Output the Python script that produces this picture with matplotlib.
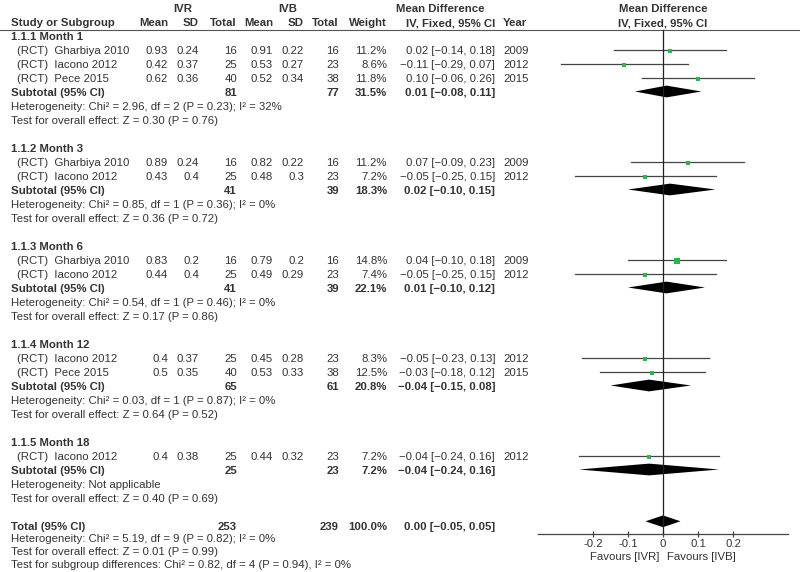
import matplotlib.pyplot as plt

plt.rcParams['font.family'] = ['Liberation Sans', 'DejaVu Sans']

# ---- data ----
groups = ['1.1.1 Month 1', '1.1.2 Month 3', '1.1.3 Month 6', '1.1.4 Month 12', '1.1.5 Month 18']

studies = [
    ['Gharbiya 2010', 'Iacono 2012', 'Pece 2015'],
    ['Gharbiya 2010', 'Iacono 2012'],
    ['Gharbiya 2010', 'Iacono 2012'],
    ['Iacono 2012', 'Pece 2015'],
    ['Iacono 2012'],
]
ivr_mean = [[0.93, 0.42, 0.62], [0.89, 0.43], [0.83, 0.44], [0.4, 0.5], [0.4]]
ivr_sd = [[0.24, 0.37, 0.36], [0.24, 0.4], [0.2, 0.4], [0.37, 0.35], [0.38]]
ivr_n = [[16, 25, 40], [16, 25], [16, 25], [25, 40], [25]]
ivb_mean = [[0.91, 0.53, 0.52], [0.82, 0.48], [0.79, 0.49], [0.45, 0.53], [0.44]]
ivb_sd = [[0.22, 0.27, 0.34], [0.22, 0.3], [0.2, 0.29], [0.28, 0.33], [0.32]]
ivb_n = [[16, 23, 38], [16, 23], [16, 23], [23, 38], [23]]
weight = [[11.2, 8.6, 11.8], [11.2, 7.2], [14.8, 7.4], [8.3, 12.5], [7.2]]
md = [[0.02, -0.11, 0.10], [0.07, -0.05], [0.04, -0.05], [-0.05, -0.03], [-0.04]]
md_lo = [[-0.14, -0.29, -0.06], [-0.09, -0.25], [-0.10, -0.25], [-0.23, -0.18], [-0.24]]
md_hi = [[0.18, 0.07, 0.26], [0.23, 0.15], [0.18, 0.15], [0.13, 0.12], [0.16]]
year = [[2009, 2012, 2015], [2009, 2012], [2009, 2012], [2012, 2015], [2012]]

sub_ivr_n = [81, 41, 41, 65, 25]
sub_ivb_n = [77, 39, 39, 61, 23]
sub_weight = [31.5, 18.3, 22.1, 20.8, 7.2]
sub_md = [0.01, 0.02, 0.01, -0.04, -0.04]
sub_lo = [-0.08, -0.10, -0.10, -0.15, -0.24]
sub_hi = [0.11, 0.15, 0.12, 0.08, 0.16]
sub_het = ['Heterogeneity: Chi² = 2.96, df = 2 (P = 0.23); I² = 32%',
           'Heterogeneity: Chi² = 0.85, df = 1 (P = 0.36); I² = 0%',
           'Heterogeneity: Chi² = 0.54, df = 1 (P = 0.46); I² = 0%',
           'Heterogeneity: Chi² = 0.03, df = 1 (P = 0.87); I² = 0%',
           'Heterogeneity: Not applicable']
sub_z = ['Test for overall effect: Z = 0.30 (P = 0.76)',
         'Test for overall effect: Z = 0.36 (P = 0.72)',
         'Test for overall effect: Z = 0.17 (P = 0.86)',
         'Test for overall effect: Z = 0.64 (P = 0.52)',
         'Test for overall effect: Z = 0.40 (P = 0.69)']

total_ivr_n, total_ivb_n, total_weight = 253, 239, 100.0
total_md, total_lo, total_hi = 0.00, -0.05, 0.05
total_notes = ['Heterogeneity: Chi² = 5.19, df = 9 (P = 0.82); I² = 0%',
               'Test for overall effect: Z = 0.01 (P = 0.99)',
               'Test for subgroup differences: Chi² = 0.82, df = 4 (P = 0.94), I² = 0%']

ticks = [-0.2, -0.1, 0, 0.1, 0.2]
tick_labels = ['-0.2', '-0.1', '0', '0.1', '0.2']

# ---- layout ----
txt = '#333333'
fs = 8.2
green = '#2fb34a'
row_px, row0_px = 14.0, 35.5
ylim = ((572 - row0_px) / row_px, -row0_px / row_px)


def fmt(v):
    return f'{v:.2f}'.replace('-', '\u2212')


def ci(m, lo, hi):
    return f'{fmt(m)} [{fmt(lo)}, {fmt(hi)}]'


fig = plt.figure(figsize=(8, 5.72), dpi=100)
ax = fig.add_axes([0, 0, 1, 1])
ax.set_xlim(0, 800)
ax.set_ylim(*ylim)
ax.axis('off')

fx0, fx1 = 538, 788
axf = fig.add_axes([fx0 / 800, 0, (fx1 - fx0) / 800, 1])
axf.set_xlim(-0.357, 0.357)
axf.set_ylim(*ylim)
axf.patch.set_visible(False)


def t(x, y, s, ha='left', bold=False, **kw):
    ax.text(x, y, s, ha=ha, va='center_baseline', fontsize=fs, color=txt,
            fontweight='bold' if bold else 'normal', **kw)


# header
t(183, -2, 'IVR', 'center', True)
t(288, -2, 'IVB', 'center', True)
t(440, -2, 'Mean Difference', 'center', True)
t(663, -2, 'Mean Difference', 'center', True)
t(11, -0.95, 'Study or Subgroup', bold=True)
for x, s in [(168, 'Mean'), (199, 'SD'), (237, 'Total'), (273, 'Mean'),
             (304, 'SD'), (339, 'Total'), (387, 'Weight'), (495, 'IV, Fixed, 95% CI')]:
    t(x, -0.95, s, 'right', True)
t(503, -0.95, 'Year', bold=True)
t(663, -0.95, 'IV, Fixed, 95% CI', 'center', True)
ax.axhline(-0.42, color='#555555', lw=0.8)


def diamond(y, m, lo, hi, h=0.42):
    axf.fill([lo, m, hi, m], [y, y - h, y, y + h], color='black', lw=0)


row = 0
for g in range(len(groups)):
    t(11, row, groups[g], bold=True)
    row += 1
    for i, name in enumerate(studies[g]):
        t(17, row, '(RCT)  ' + name)
        t(168, row, str(ivr_mean[g][i]), 'right')
        t(199, row, str(ivr_sd[g][i]), 'right')
        t(237, row, str(ivr_n[g][i]), 'right')
        t(273, row, str(ivb_mean[g][i]), 'right')
        t(304, row, str(ivb_sd[g][i]), 'right')
        t(339, row, str(ivb_n[g][i]), 'right')
        t(387, row, f'{weight[g][i]:.1f}%', 'right')
        t(495, row, ci(md[g][i], md_lo[g][i], md_hi[g][i]), 'right')
        t(503, row, str(year[g][i]))
        axf.plot([md_lo[g][i], md_hi[g][i]], [row, row], color='#444444', lw=0.9)
        axf.plot(md[g][i], row + 0.1, 's', color=green, ms=1.5 + weight[g][i] * 0.16, mew=0)
        row += 1
    t(11, row, 'Subtotal (95% CI)', bold=True)
    t(237, row, str(sub_ivr_n[g]), 'right', True)
    t(339, row, str(sub_ivb_n[g]), 'right', True)
    t(387, row, f'{sub_weight[g]:.1f}%', 'right', True)
    t(495, row, ci(sub_md[g], sub_lo[g], sub_hi[g]), 'right', True)
    diamond(row, sub_md[g], sub_lo[g], sub_hi[g])
    row += 1
    t(11, row, sub_het[g])
    row += 1
    t(11, row, sub_z[g])
    row += 2

t(11, row, 'Total (95% CI)', bold=True)
t(237, row, str(total_ivr_n), 'right', True)
t(339, row, str(total_ivb_n), 'right', True)
t(387, row, f'{total_weight:.1f}%', 'right', True)
t(495, row, ci(total_md, total_lo, total_hi), 'right', True)
diamond(row - 0.3, total_md, total_lo, total_hi)
axis_row = row + 0.6
for k, s in enumerate(total_notes):
    t(11, row + 0.92 * (k + 1), s)

# forest axis
axf.plot([0, 0], [-0.42, axis_row], color='#222222', lw=0.9)
for s in ['top', 'left', 'right']:
    axf.spines[s].set_visible(False)
axf.spines['bottom'].set_position(('data', axis_row))
axf.spines['bottom'].set_color('#444444')
axf.spines['bottom'].set_linewidth(0.9)
axf.set_yticks([])
axf.set_xticks(ticks)
axf.set_xticklabels(tick_labels)
axf.tick_params(axis='x', direction='inout', length=5, width=0.9, color='#444444',
                labelsize=fs, labelcolor=txt, pad=1)
axf.text(-0.01, axis_row + 1.6, 'Favours [IVR]', ha='right', va='center_baseline',
         fontsize=fs, color=txt)
axf.text(0.01, axis_row + 1.6, 'Favours [IVB]', ha='left', va='center_baseline',
         fontsize=fs, color=txt)

fig.savefig('out.png', dpi=100)
